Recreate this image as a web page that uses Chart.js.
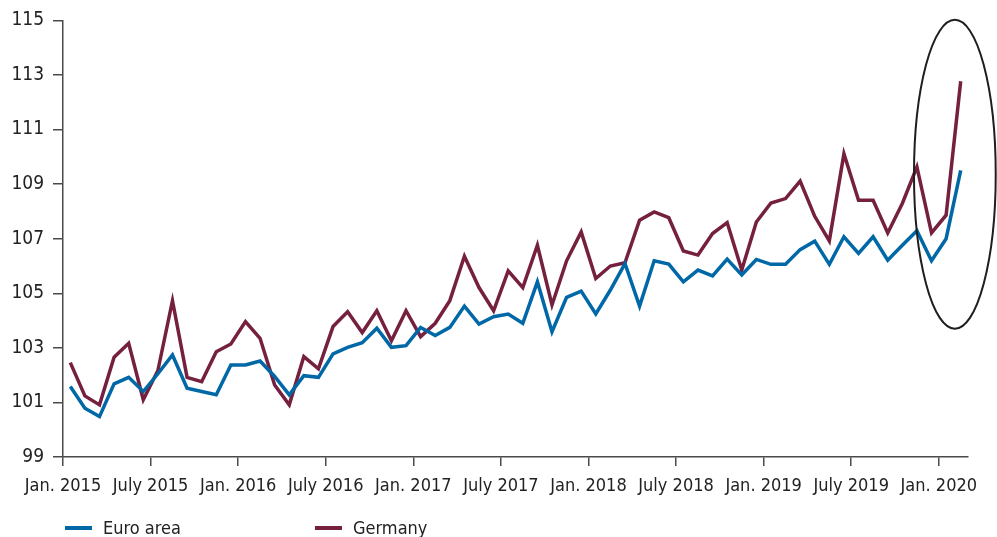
<!DOCTYPE html>
<html>
<head>
<meta charset="utf-8">
<script src="https://cdn.jsdelivr.net/npm/chart.js@4/dist/chart.umd.min.js"></script>
<style>
  html, body { margin: 0; padding: 0; background: #fff; }
  #wrap { position: relative; width: 997px; height: 537px; }
  #c { position: absolute; left: 0; top: 0; }
  .legend { position: absolute; top: 516px; font-family: 'Liberation Sans Narrow', 'DejaVu Sans Condensed', 'Liberation Sans', sans-serif; font-size: 18px; color: #222; line-height: 24px; white-space: nowrap; }
  .legend span.sw { display: inline-block; width: 27px; height: 4px; vertical-align: middle; margin-right: 11px; position: relative; top: -1px; }
</style>
</head>
<body>
<div id="wrap">
  <canvas id="c" width="997" height="537"></canvas>
  <div class="legend" style="left:65px"><span class="sw" style="background:#0068a6"></span>Euro area</div>
  <div class="legend" style="left:315px"><span class="sw" style="background:#75203f"></span>Germany</div>
</div>
<script>
// Monthly index values, Jan. 2015 – Feb. 2020
const months = [
  '2015-01','2015-02','2015-03','2015-04','2015-05','2015-06','2015-07','2015-08','2015-09','2015-10','2015-11','2015-12',
  '2016-01','2016-02','2016-03','2016-04','2016-05','2016-06','2016-07','2016-08','2016-09','2016-10','2016-11','2016-12',
  '2017-01','2017-02','2017-03','2017-04','2017-05','2017-06','2017-07','2017-08','2017-09','2017-10','2017-11','2017-12',
  '2018-01','2018-02','2018-03','2018-04','2018-05','2018-06','2018-07','2018-08','2018-09','2018-10','2018-11','2018-12',
  '2019-01','2019-02','2019-03','2019-04','2019-05','2019-06','2019-07','2019-08','2019-09','2019-10','2019-11','2019-12',
  '2020-01','2020-02'
];

const euroArea = [
  101.58, 100.79, 100.48, 101.68, 101.92, 101.40, 102.05, 102.74, 101.52, 101.40, 101.28, 102.37,
  102.37, 102.52, 101.95, 101.28, 101.98, 101.92, 102.78, 103.02, 103.19, 103.72, 103.02, 103.08,
  103.75, 103.45, 103.75, 104.53, 103.87, 104.14, 104.24, 103.90, 105.42, 103.59, 104.85, 105.08,
  104.24, 105.12, 106.09, 104.53, 106.19, 106.07, 105.42, 105.85, 105.64, 106.25, 105.67, 106.24,
  106.06, 106.06, 106.60, 106.91, 106.06, 107.07, 106.46, 107.07, 106.21, 106.76, 107.29, 106.19,
  107.00, 109.50
];

const germany = [
  102.46, 101.24, 100.91, 102.66, 103.17, 101.10, 102.17, 104.73, 101.92, 101.76, 102.86, 103.14,
  103.96, 103.35, 101.64, 100.91, 102.68, 102.23, 103.78, 104.32, 103.56, 104.36, 103.26, 104.36,
  103.41, 103.90, 104.73, 106.36, 105.21, 104.36, 105.82, 105.21, 106.76, 104.57, 106.19, 107.25,
  105.54, 106.00, 106.12, 107.68, 107.98, 107.77, 106.55, 106.40, 107.19, 107.59, 105.85, 107.61,
  108.31, 108.47, 109.11, 107.82, 106.92, 110.11, 108.41, 108.41, 107.21, 108.29, 109.63, 107.21,
  107.86, 112.77
];

// One label every six months, placed on the month boundary
const tickLabels = ['Jan. 2015','July 2015','Jan. 2016','July 2016','Jan. 2017','July 2017',
                    'Jan. 2018','July 2018','Jan. 2019','July 2019','Jan. 2020'];
const yTicks = [99, 101, 103, 105, 107, 109, 111, 113, 115];

// Highlight around the latest months (x in months from Jan. 2015, y in index points)
const highlight = { x: 61.1, y: 109.36, rx: 2.8, ry: 5.66 };

const toPoints = arr => arr.map((v, i) => ({ x: i + 0.5, y: v }));

const FONT = "'Liberation Sans Narrow', 'DejaVu Sans Condensed', 'Liberation Sans', sans-serif";
const AXIS = '#4a4a4a';

const ellipsePlugin = {
  id: 'highlightEllipse',
  afterDatasetsDraw(chart) {
    const { ctx, scales: { x, y } } = chart;
    const cx = x.getPixelForValue(highlight.x);
    const cy = y.getPixelForValue(highlight.y);
    const rx = Math.abs(x.getPixelForValue(highlight.x + highlight.rx) - cx);
    const ry = Math.abs(y.getPixelForValue(highlight.y + highlight.ry) - cy);
    ctx.save();
    ctx.beginPath();
    ctx.ellipse(cx, cy, rx, ry, 0, 0, Math.PI * 2);
    ctx.lineWidth = 2;
    ctx.strokeStyle = '#1e1e1e';
    ctx.stroke();
    ctx.restore();
  }
};

new Chart(document.getElementById('c'), {
  type: 'line',
  data: {
    datasets: [
      { label: 'Euro area', data: toPoints(euroArea), borderColor: '#0068a6', borderWidth: 3.5,
        pointRadius: 0, tension: 0, fill: false },
      { label: 'Germany', data: toPoints(germany), borderColor: '#75203f', borderWidth: 3.5,
        pointRadius: 0, tension: 0, fill: false }
    ]
  },
  options: {
    responsive: false,
    animation: false,
    layout: { padding: { top: 20, right: 29, bottom: 30, left: 0 } },
    plugins: {
      legend: { display: false },
      tooltip: { enabled: false }
    },
    scales: {
      x: {
        type: 'linear',
        min: 0,
        max: months.length,
        afterBuildTicks: s => { s.ticks = tickLabels.map((_, i) => ({ value: i * 6 })); },
        afterFit: s => { s.height = 50; },
        ticks: {
          autoSkip: false,
          maxRotation: 0,
          padding: 10,
          color: '#222',
          font: { family: FONT, size: 18 },
          callback: v => tickLabels[Math.round(v / 6)]
        },
        grid: { drawOnChartArea: false, drawTicks: true, tickLength: 9, color: AXIS, lineWidth: 1.5 },
        border: { display: true, color: AXIS, width: 1.5 }
      },
      y: {
        min: yTicks[0],
        max: yTicks[yTicks.length - 1],
        afterBuildTicks: s => { s.ticks = yTicks.map(v => ({ value: v })); },
        afterFit: s => { s.width = 63; },
        ticks: {
          padding: 9,
          color: '#222',
          font: { family: FONT, size: 19 }
        },
        grid: { drawOnChartArea: false, drawTicks: true, tickLength: 10, color: AXIS, lineWidth: 1.5 },
        border: { display: true, color: AXIS, width: 1.5 }
      }
    }
  },
  plugins: [ellipsePlugin]
});
</script>
</body>
</html>
